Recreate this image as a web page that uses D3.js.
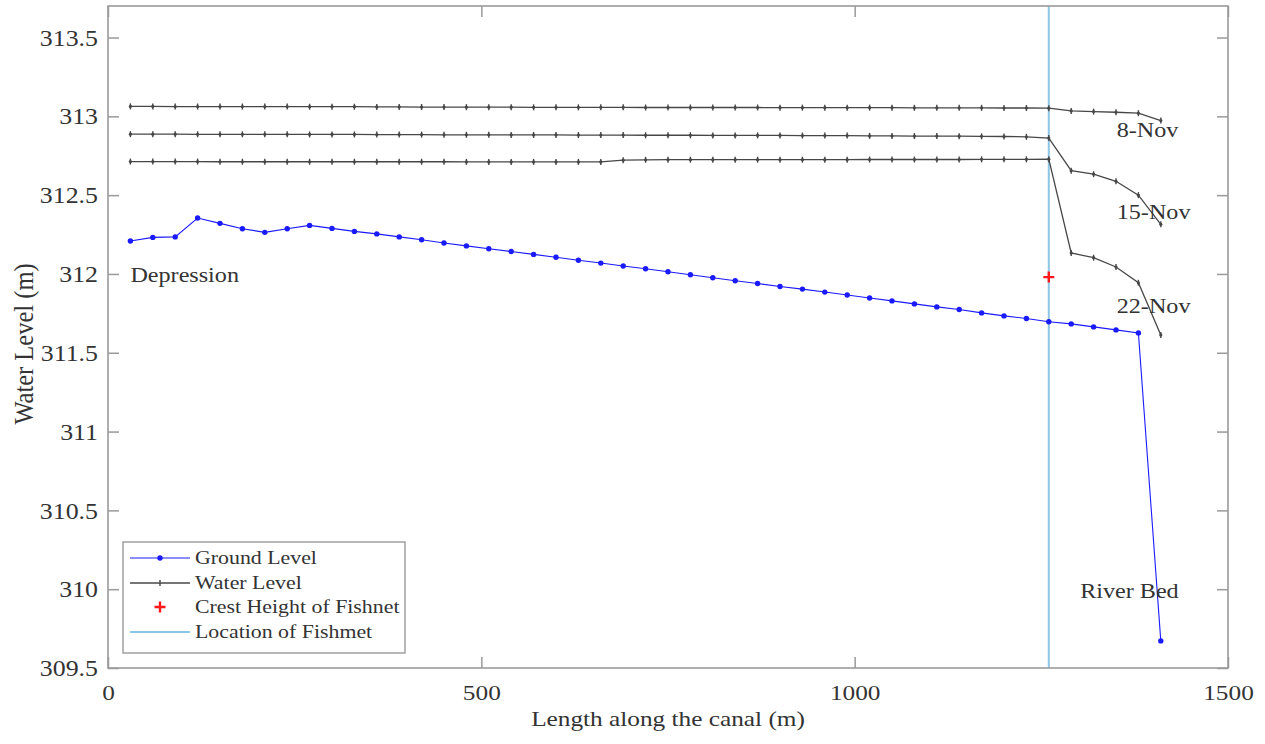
<!DOCTYPE html>
<html><head><meta charset="utf-8">
<script src="https://cdn.jsdelivr.net/npm/d3@7"></script>
<style>
body{margin:0;background:#fff}
svg text{font-family:"Liberation Serif","Times New Roman",serif;fill:#333}
</style>
</head><body>
<svg id="chart" width="1265" height="744"></svg>
<script>
// ---------- data ----------
const distance = [30,60,90,120,150,180,210,240,270,300,330,360,390,420,450,480,510,540,570,600,
  630,660,690,720,750,780,810,840,870,900,930,960,990,1020,1050,1080,1110,1140,1170,1200,
  1230,1260,1290,1320,1350,1380,1410];

const groundLevel = [312.209,312.232,312.235,312.355,312.321,312.287,312.264,312.287,312.308,312.289,
  312.270,312.254,312.235,312.217,312.196,312.178,312.160,312.142,312.124,312.106,
  312.087,312.069,312.050,312.033,312.014,311.995,311.976,311.957,311.939,311.920,
  311.904,311.885,311.866,311.847,311.829,311.810,311.791,311.774,311.753,311.734,
  311.717,311.697,311.683,311.664,311.645,311.626,309.672];

const water8Nov = [313.063,313.063,313.062,313.062,313.062,313.062,313.062,313.062,313.061,313.061,
  313.061,313.060,313.060,313.059,313.059,313.058,313.058,313.058,313.057,313.057,
  313.057,313.057,313.057,313.056,313.056,313.056,313.056,313.056,313.056,313.055,
  313.055,313.055,313.055,313.055,313.055,313.054,313.054,313.054,313.054,313.053,
  313.053,313.052,313.034,313.030,313.026,313.020,312.973];

const water15Nov = [312.887,312.887,312.887,312.886,312.886,312.886,312.886,312.886,312.885,312.885,
  312.885,312.884,312.884,312.884,312.883,312.883,312.883,312.882,312.882,312.882,
  312.881,312.881,312.881,312.880,312.880,312.880,312.879,312.879,312.879,312.879,
  312.878,312.878,312.878,312.876,312.876,312.875,312.875,312.874,312.873,312.872,
  312.870,312.862,312.655,312.633,312.588,312.500,312.315];

const water22Nov = [312.713,312.713,312.713,312.713,312.712,312.712,312.712,312.712,312.712,312.712,
  312.712,312.712,312.712,312.712,312.712,312.711,312.711,312.711,312.711,312.711,
  312.711,312.711,312.722,312.724,312.725,312.725,312.725,312.725,312.725,312.725,
  312.725,312.725,312.725,312.726,312.726,312.726,312.726,312.726,312.727,312.727,
  312.727,312.728,312.133,312.103,312.044,311.944,311.613];

const fishnetLocation = 1260;
const crestHeight = 311.98;

const xTicks = [0,500,1000,1500];
const xTickLabels = ["0","500","1000","1500"];
const yTicks = [309.5,310,310.5,311,311.5,312,312.5,313,313.5];
const yTickLabels = ["309.5","310","310.5","311","311.5","312","312.5","313","313.5"];

const seriesNames = ["Ground Level","Water Level","Crest Height of Fishnet","Location of Fishmet"];
const annotations = [
  {text:"Depression", x:30,   y:311.95},
  {text:"8-Nov",      x:1351, y:312.866},
  {text:"15-Nov",     x:1351, y:312.351},
  {text:"22-Nov",     x:1351, y:311.753},
  {text:"River Bed",  x:1302, y:309.945}
];

// ---------- layout ----------
const SX = 1.15; // horizontal stretch of the glyphs in the reference
const FONT = '"Liberation Serif","Times New Roman",serif';
const L = 108, R = 1228, T = 6, B = 668;
const x = d3.scaleLinear().domain([0,1500]).range([L,R]);
const y = d3.scaleLinear().domain([309.5,313.7]).range([B,T]);
const svg = d3.select("#chart");

const BLUE = "#1a1aff", GRAY = "#474747", FISH = "#8cc6e6", AX = "#9a9a9a";

function stext(g, px, py, str, size, anchor){
  return g.append("text")
    .attr("transform",`translate(${px},${py}) scale(${SX},1)`)
    .attr("text-anchor",anchor||"start")
    .style("font-family",FONT)
    .style("font-size",size+"px")
    .text(str);
}

// fishnet location
svg.append("line")
  .attr("x1",x(fishnetLocation)).attr("x2",x(fishnetLocation))
  .attr("y1",y(313.7)).attr("y2",y(309.5))
  .attr("stroke",FISH).attr("stroke-width",2);

// water level lines
const waterSets = [water8Nov, water15Nov, water22Nov];
const line = d3.line().x((d,i)=>x(distance[i])).y(d=>y(d));
waterSets.forEach(ws=>{
  svg.append("path").attr("d",line(ws)).attr("fill","none")
    .attr("stroke",GRAY).attr("stroke-width",1.3);
  const g = svg.append("g");
  ws.forEach((v,i)=>{
    g.append("line").attr("x1",x(distance[i])).attr("x2",x(distance[i]))
      .attr("y1",y(v)-3).attr("y2",y(v)+3).attr("stroke",GRAY).attr("stroke-width",1.4);
    g.append("circle").attr("cx",x(distance[i])).attr("cy",y(v)).attr("r",1.6).attr("fill",GRAY);
  });
});

// ground level
svg.append("path").attr("d",line(groundLevel)).attr("fill","none")
  .attr("stroke",BLUE).attr("stroke-width",1.1);
svg.append("g").selectAll("circle").data(groundLevel).join("circle")
  .attr("cx",(d,i)=>x(distance[i])).attr("cy",d=>y(d)).attr("r",2.7).attr("fill",BLUE);

// crest
function plus(g, cx, cy, s){
  g.append("path").attr("d",`M${cx-s},${cy}H${cx+s}M${cx},${cy-s}V${cy+s}`)
   .attr("stroke","#ff1a1a").attr("stroke-width",2.4).attr("fill","none");
}
plus(svg, x(fishnetLocation), y(crestHeight), 5.5);

// axes
const axL = svg.append("g").attr("transform",`translate(${L},0)`)
  .call(d3.axisLeft(y).tickValues(yTicks).tickFormat((d,i)=>yTickLabels[i]).tickSize(-11).tickSizeOuter(0).tickPadding(10));
const axB = svg.append("g").attr("transform",`translate(0,${B})`)
  .call(d3.axisBottom(x).tickValues(xTicks).tickFormat((d,i)=>xTickLabels[i]).tickSize(-11).tickSizeOuter(0));
const axR = svg.append("g").attr("transform",`translate(${R},0)`)
  .call(d3.axisRight(y).tickValues(yTicks).tickFormat("").tickSize(-11).tickSizeOuter(0));
const axT = svg.append("g").attr("transform",`translate(0,${T})`)
  .call(d3.axisTop(x).tickValues(xTicks).tickFormat("").tickSize(-11).tickSizeOuter(0));
[axL,axB,axR,axT].forEach(a=>{
  a.select(".domain").remove();
  a.selectAll(".tick line").attr("stroke",AX).attr("stroke-width",1.5);
  a.attr("font-family",null).attr("font-size",null);
});
axL.selectAll(".tick text").attr("x",-10/SX).attr("dy","0.34em")
  .attr("transform",`scale(${SX},1)`).style("font-family",FONT).style("font-size","22.5px").attr("fill","#333");
axB.selectAll(".tick text").attr("y",32).attr("dy",0)
  .attr("transform",`scale(${SX},1)`).style("font-family",FONT).style("font-size","22px").attr("fill","#333");

svg.append("rect").attr("x",L).attr("y",T).attr("width",R-L).attr("height",B-T)
  .attr("fill","none").attr("stroke",AX).attr("stroke-width",1.6);

// axis titles
stext(svg,(L+R)/2,726,"Length along the canal (m)",22,"middle");
svg.append("text").attr("transform",`translate(33,${(T+B)/2+7}) rotate(-90) scale(1,${SX})`)
  .attr("text-anchor","middle").style("font-family",FONT).style("font-size","24.5px").text("Water Level (m)");

// annotations
annotations.forEach(a=>stext(svg,x(a.x),y(a.y),a.text,21,"start"));

// legend
const lg = svg.append("g");
lg.append("rect").attr("x",123).attr("y",542).attr("width",282).attr("height",111)
  .attr("fill","#fff").attr("stroke",AX).attr("stroke-width",1.4);
const rowY = [558,583,607,632];
lg.append("line").attr("x1",130).attr("x2",190).attr("y1",rowY[0]).attr("y2",rowY[0]).attr("stroke",BLUE).attr("stroke-width",1.1);
lg.append("circle").attr("cx",160).attr("cy",rowY[0]).attr("r",2.7).attr("fill",BLUE);
lg.append("line").attr("x1",130).attr("x2",190).attr("y1",rowY[1]).attr("y2",rowY[1]).attr("stroke",GRAY).attr("stroke-width",1.3);
lg.append("line").attr("x1",160).attr("x2",160).attr("y1",rowY[1]-3).attr("y2",rowY[1]+3).attr("stroke",GRAY).attr("stroke-width",1.4);
plus(lg,160,rowY[2],5.5);
lg.append("line").attr("x1",130).attr("x2",190).attr("y1",rowY[3]).attr("y2",rowY[3]).attr("stroke",FISH).attr("stroke-width",2);
seriesNames.forEach((s,i)=>stext(lg,195,rowY[i]+6,s,19,"start"));
</script>
</body></html>
